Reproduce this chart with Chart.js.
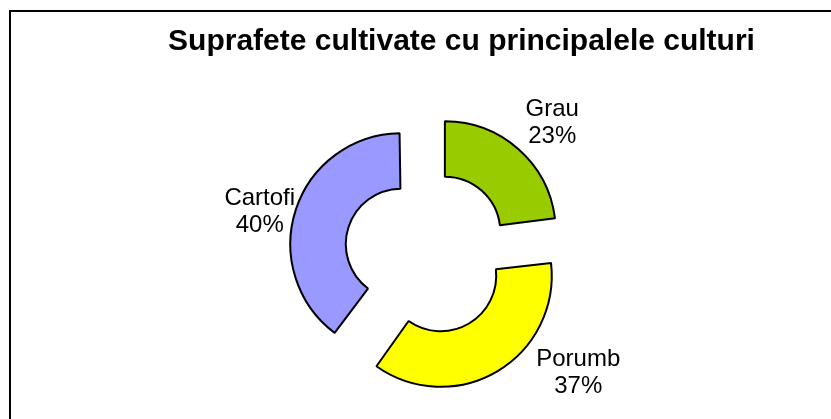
<!DOCTYPE html>
<html>
<head>
<meta charset="utf-8">
<script src="https://cdn.jsdelivr.net/npm/chart.js@4.4.1/dist/chart.umd.min.js"></script>
<style>
  html, body { margin: 0; padding: 0; background: #fff; overflow: hidden; }
  #wrap { position: absolute; left: 0; top: 0; width: 920px; height: 480px; }
</style>
</head>
<body>
<div id="wrap"><canvas id="chart" width="920" height="480"></canvas></div>
<script>
const chartTitle = 'Suprafete cultivate cu principalele culturi';
const categories = ['Grau', 'Porumb', 'Cartofi'];
const shares = [23, 37, 40];
const sliceColors = ['#99CC00', '#FFFF00', '#9999FF'];

// outer frame of the sheet chart + its title (centred on the frame, not on the ring)
const framePlugin = {
  id: 'frame',
  beforeDraw(chart, args, opts) {
    const { ctx } = chart;
    ctx.save();
    ctx.fillStyle = '#fff';
    ctx.fillRect(0, 0, chart.width, chart.height);
    ctx.strokeStyle = '#000';
    ctx.lineWidth = 2;
    ctx.strokeRect(10, 11, 900, 460);
    ctx.fillStyle = '#000';
    ctx.font = opts.font;
    ctx.textAlign = 'center';
    ctx.textBaseline = 'alphabetic';
    ctx.fillText(opts.text, 461.5, 50);
    ctx.restore();
  },
};

// Chart.js grows offset arcs wider than half a turn a bit; keep every ring the same size
const evenRings = {
  id: 'evenRings',
  afterDatasetUpdate(chart, { meta }) {
    meta.data.forEach((arc) => {
      const shift = ((arc.options && arc.options.offset) || 0) / 4;
      const fix = 1 - Math.sin(Math.min(Math.PI, arc.circumference || 0));
      arc.outerRadius -= shift * fix;
      arc.innerRadius -= shift * fix;
    });
  },
};

// "Name / NN%" labels outside each slice
const sliceLabels = {
  id: 'sliceLabels',
  afterDatasetsDraw(chart, args, opts) {
    const { ctx } = chart;
    const meta = chart.getDatasetMeta(0);
    const values = chart.data.datasets[0].data;
    const total = values.reduce((a, b) => a + b, 0);
    ctx.save();
    ctx.font = opts.font;
    ctx.fillStyle = '#000';
    ctx.textAlign = 'center';
    ctx.textBaseline = 'alphabetic';
    meta.data.forEach((arc, i) => {
      const { x, y, startAngle, endAngle } = arc.getProps(['x', 'y', 'startAngle', 'endAngle'], true);
      const mid = (startAngle + endAngle) / 2;
      const shift = (arc.options.offset || 0) / 4;
      const r = 111 + shift;
      const nudge = opts.nudges[i] || [0, 0];
      const cx = x + Math.cos(mid) * r + nudge[0];
      const cy = y + Math.sin(mid) * r + nudge[1];
      const pct = Math.round(values[i] / total * 100) + '%';
      ctx.fillText(chart.data.labels[i], cx, cy - 5);
      ctx.fillText(pct, cx, cy + 22);
    });
    ctx.restore();
  },
};

new Chart(document.getElementById('chart'), {
  type: 'doughnut',
  data: {
    labels: categories,
    datasets: [{
      data: shares,
      backgroundColor: sliceColors,
      borderColor: '#000',
      borderWidth: 2,
      offset: 108,
      hoverOffset: 108,
    }],
  },
  plugins: [framePlugin, evenRings, sliceLabels],
  options: {
    responsive: false,
    animation: false,
    radius: 111,
    cutout: '50%',
    layout: { padding: { left: 100, right: 166, top: 70, bottom: 45 } },
    plugins: {
      legend: { display: false },
      tooltip: { enabled: false },
      title: { display: false },
      frame: {
        text: chartTitle,
        font: 'bold 30px Arial, "Liberation Sans", sans-serif',
      },
      sliceLabels: {
        font: '24px Arial, "Liberation Sans", sans-serif',
        nudges: [[34, -27.5], [81, -0.5], [-36, 0.5]],
      },
    },
  },
});
</script>
</body>
</html>
